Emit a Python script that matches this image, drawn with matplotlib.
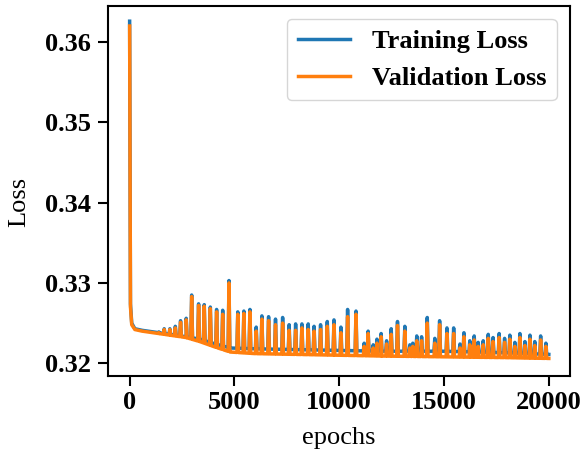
#!/usr/bin/env python3
"""
Training / validation loss over epochs.
Spiky loss curve, values read off the reference plot.
"""

import numpy as np
import matplotlib
matplotlib.use("Agg")
import matplotlib.pyplot as plt

# smooth part of the curves (epoch, loss)
base_epochs = [0, 40, 100, 250, 600, 1400, 2700, 3350, 4100, 4800, 6000,
               8000, 10000, 12000, 15000, 18000, 20000]
train_base = [0.3626, 0.3274, 0.3250, 0.3243, 0.3241, 0.3238, 0.3233, 0.3230,
              0.3224, 0.3219, 0.3218, 0.3217, 0.3216, 0.3215, 0.3215, 0.3213,
              0.3211]
val_base = [0.3620, 0.3270, 0.3248, 0.3242, 0.3240, 0.3237, 0.3232, 0.3227,
            0.3220, 0.3214, 0.3212, 0.3211, 0.3210, 0.3209, 0.3208, 0.3207,
            0.3206]

# periodic spikes
spike_epochs = [1400, 1650, 1920, 2180, 2430, 2700, 2960, 3290, 3560, 3850,
                4150, 4440, 4740, 5160, 5450, 5740, 6040, 6310, 6630, 6960,
                7300, 7610, 7920, 8220, 8520, 8800, 9110, 9430, 9750, 10080,
                10400, 10800, 11190, 11380, 11620, 11800, 12000, 12260, 12480, 12780,
                13130, 13370, 13510, 13700, 13930, 14200, 14560, 14790, 15140, 15460,
                15760, 15950, 16230, 16440, 16630, 16870, 17110, 17340, 17630, 17890,
                18140, 18380, 18620, 18860, 19100, 19330, 19610, 19860]
train_peaks = [0.3239, 0.3243, 0.3243, 0.3246, 0.3253, 0.3256, 0.3285, 0.3274, 0.3273, 0.3270,
               0.3267, 0.3266, 0.3303, 0.3264, 0.3265, 0.3267, 0.3245, 0.3259, 0.3258, 0.3255,
               0.3257, 0.3248, 0.3249, 0.3249, 0.3249, 0.3246, 0.3248, 0.3252, 0.3254, 0.3245,
               0.3267, 0.3265, 0.3225, 0.3240, 0.3223, 0.3230, 0.3237, 0.3228, 0.3243, 0.3252,
               0.3246, 0.3223, 0.3225, 0.3234, 0.3233, 0.3257, 0.3231, 0.3253, 0.3244, 0.3244,
               0.3224, 0.3238, 0.3228, 0.3234, 0.3226, 0.3228, 0.3236, 0.3232, 0.3237, 0.3231,
               0.3235, 0.3226, 0.3237, 0.3227, 0.3235, 0.3227, 0.3234, 0.3225]
val_peaks = [0.3238, 0.3242, 0.3242, 0.3244, 0.3251, 0.3254, 0.3283, 0.3272, 0.3271, 0.3268,
             0.3264, 0.3261, 0.3300, 0.3261, 0.3262, 0.3264, 0.3240, 0.3255, 0.3253, 0.3248,
             0.3250, 0.3241, 0.3241, 0.3244, 0.3242, 0.3240, 0.3242, 0.3246, 0.3248, 0.3238,
             0.3258, 0.3261, 0.3221, 0.3237, 0.3219, 0.3225, 0.3233, 0.3224, 0.3236, 0.3247,
             0.3240, 0.3219, 0.3221, 0.3228, 0.3228, 0.3250, 0.3225, 0.3248, 0.3237, 0.3237,
             0.3219, 0.3233, 0.3223, 0.3229, 0.3221, 0.3223, 0.3231, 0.3227, 0.3232, 0.3226,
             0.3230, 0.3221, 0.3232, 0.3222, 0.3230, 0.3222, 0.3229, 0.3221]

x_ticks = [0, 5000, 10000, 15000, 20000]
y_ticks = [0.32, 0.33, 0.34, 0.35, 0.36]


def build_curve(b_ep, b_val, s_ep, s_val, half_width=40):
    """Put each spike on top of the smooth curve as a narrow tent."""
    b_ep = np.asarray(b_ep, float)
    b_val = np.asarray(b_val, float)
    s_ep = np.asarray(s_ep, float)
    left = s_ep - half_width
    right = s_ep + half_width
    x = np.concatenate([b_ep, left, s_ep, right])
    y = np.concatenate([b_val, np.interp(left, b_ep, b_val), s_val,
                        np.interp(right, b_ep, b_val)])
    order = np.argsort(x, kind="stable")
    return x[order], y[order]


plt.rcParams["font.family"] = "Liberation Serif"
plt.rcParams["font.size"] = 19

fig = plt.figure(figsize=(5.82, 4.57), dpi=100)
ax = fig.add_axes([0.186, 0.177, 0.793, 0.810])

tx, ty = build_curve(base_epochs, train_base, spike_epochs, train_peaks)
vx, vy = build_curve(base_epochs, val_base, spike_epochs, val_peaks)
ax.plot(tx, ty, color="#1f77b4", lw=2.5, label="Training Loss")
ax.plot(vx, vy, color="#ff7f0e", lw=2.5, label="Validation Loss")

ax.set_xlim(-1020, 21000)
ax.set_ylim(0.3184, 0.3645)
ax.set_xticks(x_ticks)
ax.set_yticks(y_ticks)
ax.set_xticklabels([str(t) for t in x_ticks], fontweight="bold")
ax.set_yticklabels([f"{t:.2f}" for t in y_ticks], fontweight="bold")
ax.tick_params(length=7.5, width=1.5)
ax.tick_params(axis="y", pad=5)
for s in ax.spines.values():
    s.set_linewidth(1.5)

ax.set_xlabel("epochs", labelpad=9)
ax.set_ylabel("Loss")
ax.yaxis.set_label_coords(-0.168, 0.47)
ax.legend(loc="upper right", prop={"weight": "bold", "size": 19})

plt.savefig("out.png", dpi=100)
plt.close()
